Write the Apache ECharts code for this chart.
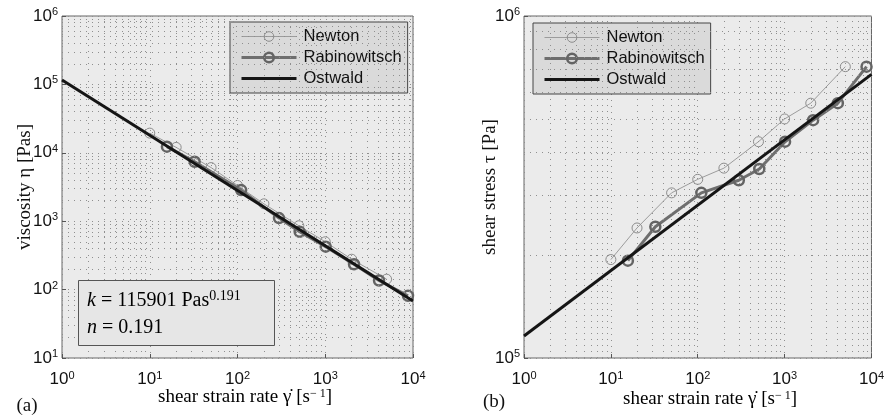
<!DOCTYPE html>
<html>
<head>
<meta charset="utf-8">
<script src="https://cdn.jsdelivr.net/npm/echarts@6/dist/echarts.min.js"></script>
<style>
html,body{margin:0;padding:0;background:#fff;}
#c{width:887px;height:419px;}
</style>
</head>
<body>
<div id="c"></div>
<script>
// ---- data ----
const seriesNames = ['Newton', 'Rabinowitsch', 'Ostwald'];
// shear strain rate [1/s]
const gammaNewton = [10, 20, 50, 100, 200, 500, 1000, 2000, 5000];
const gammaRabino = [15.7, 32.5, 110, 297, 511, 1012, 2128, 4100, 8770];
// viscosity [Pas] (panel a)
const etaNewton = [19400, 12000, 6080, 3330, 1795, 858, 500, 278, 142];
const etaRabino = [12300, 7400, 2850, 1110, 700, 424, 235, 136, 81];
// shear stress [Pa] (panel b)
const tauNewton = [194000, 240000, 304000, 333000, 359000, 429000, 500000, 556000, 711000];
const tauRabino = [192600, 242000, 304000, 331000, 357000, 429000, 496000, 556000, 711000];
// Ostwald fit line end points
const gammaOstwald = [1, 10000];
const etaOstwald = [116000, 68];
const tauOstwald = [116000, 675000];
// axis ranges (decades)
const xRange = [1, 10000];
const yRangeA = [10, 1000000];
const yRangeB = [100000, 1000000];
const fitText = ['115901', '0.191', '0.191'];

function pairs(xs, ys) { return xs.map((x, i) => [x, ys[i]]); }
function minorValues(lo, hi) {
  const out = [];
  for (let d = lo; d < hi; d *= 10) {
    for (let m = 2; m <= 9; m++) out.push(m * d);
  }
  return out;
}

const GRID_COLOR = '#8f8f8f';
const gridDash = [1, 5];

function logAxis(gridIndex, range, isX) {
  return {
    type: 'log', logBase: 10, gridIndex: gridIndex,
    min: range[0], max: range[1],
    axisLine: { show: false },
    axisTick: { show: true, inside: true, length: 4, lineStyle: { color: '#555' } },
    splitLine: { show: true, lineStyle: { color: GRID_COLOR, type: gridDash, width: 1 } },
    axisLabel: {
      margin: isX ? 12 : 4,
      formatter: function (v) { return '{b|10}{s|' + Math.round(Math.log10(v)) + '}'; },
      rich: {
        b: { fontFamily: 'Liberation Sans', fontSize: 17, color: '#111', lineHeight: 19 },
        s: { fontFamily: 'Liberation Sans', fontSize: 11, color: '#111', verticalAlign: 'top', lineHeight: 11 }
      }
    }
  };
}

function minorSeries(xi, yi, xr, yr) {
  const data = minorValues(xr[0], xr[1]).map(v => ({ xAxis: v }))
    .concat(minorValues(yr[0], yr[1]).map(v => ({ yAxis: v })));
  return {
    type: 'scatter', xAxisIndex: xi, yAxisIndex: yi, data: [], silent: true,
    markLine: {
      silent: true, symbol: ['none', 'none'], label: { show: false }, animation: false,
      lineStyle: { color: GRID_COLOR, type: gridDash, width: 1 },
      emphasis: { disabled: true },
      data: data
    }
  };
}

function mainSeries(xi, yi, nData, rData, oData) {
  return [
    {
      name: 'Newton', type: 'line', xAxisIndex: xi, yAxisIndex: yi, data: nData,
      symbol: 'circle', symbolSize: 10, showAllSymbol: true, z: 3,
      lineStyle: { color: '#9c9c9c', width: 1 },
      itemStyle: { color: 'rgba(0,0,0,0)', borderColor: '#8c8c8c', borderWidth: 1 },
      emphasis: { disabled: true }
    },
    {
      name: 'Rabinowitsch', type: 'line', xAxisIndex: xi, yAxisIndex: yi, data: rData,
      symbol: 'circle', symbolSize: 10, showAllSymbol: true, z: 4,
      lineStyle: { color: '#6e6e6e', width: 3 },
      itemStyle: { color: 'rgba(0,0,0,0)', borderColor: '#646464', borderWidth: 2.5 },
      emphasis: { disabled: true }
    },
    {
      name: 'Ostwald', type: 'line', xAxisIndex: xi, yAxisIndex: yi, data: oData,
      symbol: 'none', z: 5,
      lineStyle: { color: '#151515', width: 3 },
      itemStyle: { color: 'rgba(0,0,0,0)', borderWidth: 0 },
      emphasis: { disabled: true }
    }
  ];
}

function legendAt(left, top) {
  return {
    left: left, top: top, orient: 'vertical', selectedMode: false,
    backgroundColor: '#dadada', borderColor: '#444', borderWidth: 1,
    padding: [6, 6, 6, 10], itemGap: 4, itemWidth: 55, itemHeight: 12,
    textStyle: { fontFamily: 'Liberation Sans', fontSize: 16.5, color: '#111', padding: [0, 0, 0, 2] },
    data: [
      { name: seriesNames[0], lineStyle: { width: 1 }, itemStyle: { borderWidth: 1 } },
      { name: seriesNames[1], lineStyle: { width: 3 }, itemStyle: { borderWidth: 2.5 } },
      { name: seriesNames[2], lineStyle: { width: 3 }, itemStyle: { color: 'rgba(0,0,0,0)', borderColor: 'rgba(0,0,0,0)', borderWidth: 0, opacity: 0 } }
    ]
  };
}

const serif = 'Liberation Serif';
const titleRich = {
  t: { fontFamily: serif, fontSize: 19, color: '#111' },
  s: { fontFamily: serif, fontSize: 12, color: '#111', verticalAlign: 'top' }
};

const chart = echarts.init(document.getElementById('c'), null, { renderer: 'canvas' });
chart.setOption({
  animation: false,
  backgroundColor: '#ffffff',
  grid: [
    { left: 62, top: 16, width: 351, height: 342, show: true, backgroundColor: '#ebebeb', borderColor: '#666', borderWidth: 1 },
    { left: 524, top: 16, width: 351, height: 342, show: true, backgroundColor: '#ebebeb', borderColor: '#666', borderWidth: 1 }
  ],
  xAxis: [logAxis(0, xRange, true), logAxis(1, xRange, true)],
  yAxis: [logAxis(0, yRangeA, false), logAxis(1, yRangeB, false)],
  legend: [legendAt(230, 22), legendAt(533, 23)],
  series: [
    minorSeries(0, 0, xRange, yRangeA),
    minorSeries(1, 1, xRange, yRangeB)
  ].concat(
    mainSeries(0, 0, pairs(gammaNewton, etaNewton), pairs(gammaRabino, etaRabino), pairs(gammaOstwald, etaOstwald)),
    mainSeries(1, 1, pairs(gammaNewton, tauNewton), pairs(gammaRabino, tauRabino), pairs(gammaOstwald, tauOstwald))
  ),
  graphic: [
    // fit parameter box (panel a)
    { type: 'rect', left: 78, top: 280, shape: { width: 196, height: 65 }, style: { fill: '#e6e6e6', stroke: '#555', lineWidth: 1 }, z: 20 },
    { type: 'text', left: 87, top: 289, z: 21, style: {
        text: '{i|k}{t| = ' + fitText[0] + ' Pas}{s|' + fitText[1] + '}',
        rich: {
          i: { fontFamily: serif, fontStyle: 'italic', fontSize: 20, color: '#111', lineHeight: 24 },
          t: { fontFamily: serif, fontSize: 20, color: '#111', lineHeight: 24 },
          s: { fontFamily: serif, fontSize: 14, color: '#111', verticalAlign: 'top', lineHeight: 14 }
        } } },
    { type: 'text', left: 87, top: 318, z: 21, style: {
        text: '{i|n}{t| = ' + fitText[2] + '}',
        rich: {
          i: { fontFamily: serif, fontStyle: 'italic', fontSize: 20, color: '#111', lineHeight: 24 },
          t: { fontFamily: serif, fontSize: 20, color: '#111', lineHeight: 24 }
        } } },
    // axis titles
    { type: 'text', x: 25, y: 187, rotation: Math.PI / 2, style: {
        text: 'viscosity η [Pas]', font: '19px "Liberation Serif"', fill: '#111', align: 'center', verticalAlign: 'middle' } },
    { type: 'text', x: 490, y: 187, rotation: Math.PI / 2, style: {
        text: 'shear stress τ [Pa]', font: '19px "Liberation Serif"', fill: '#111', align: 'center', verticalAlign: 'middle' } },
    { type: 'text', x: 245, y: 397, style: {
        text: '{t|shear strain rate γ̇ [s}{s|− 1}{t|]}', rich: titleRich, align: 'center', verticalAlign: 'middle' } },
    { type: 'text', x: 710, y: 399, style: {
        text: '{t|shear strain rate γ̇ [s}{s|− 1}{t|]}', rich: titleRich, align: 'center', verticalAlign: 'middle' } },
    // panel labels
    { type: 'text', x: 27, y: 406, style: { text: '(a)', font: '19px "Liberation Serif"', fill: '#111', align: 'center', verticalAlign: 'middle' } },
    { type: 'text', x: 494, y: 402, style: { text: '(b)', font: '19px "Liberation Serif"', fill: '#111', align: 'center', verticalAlign: 'middle' } }
  ]
});
</script>
</body>
</html>
